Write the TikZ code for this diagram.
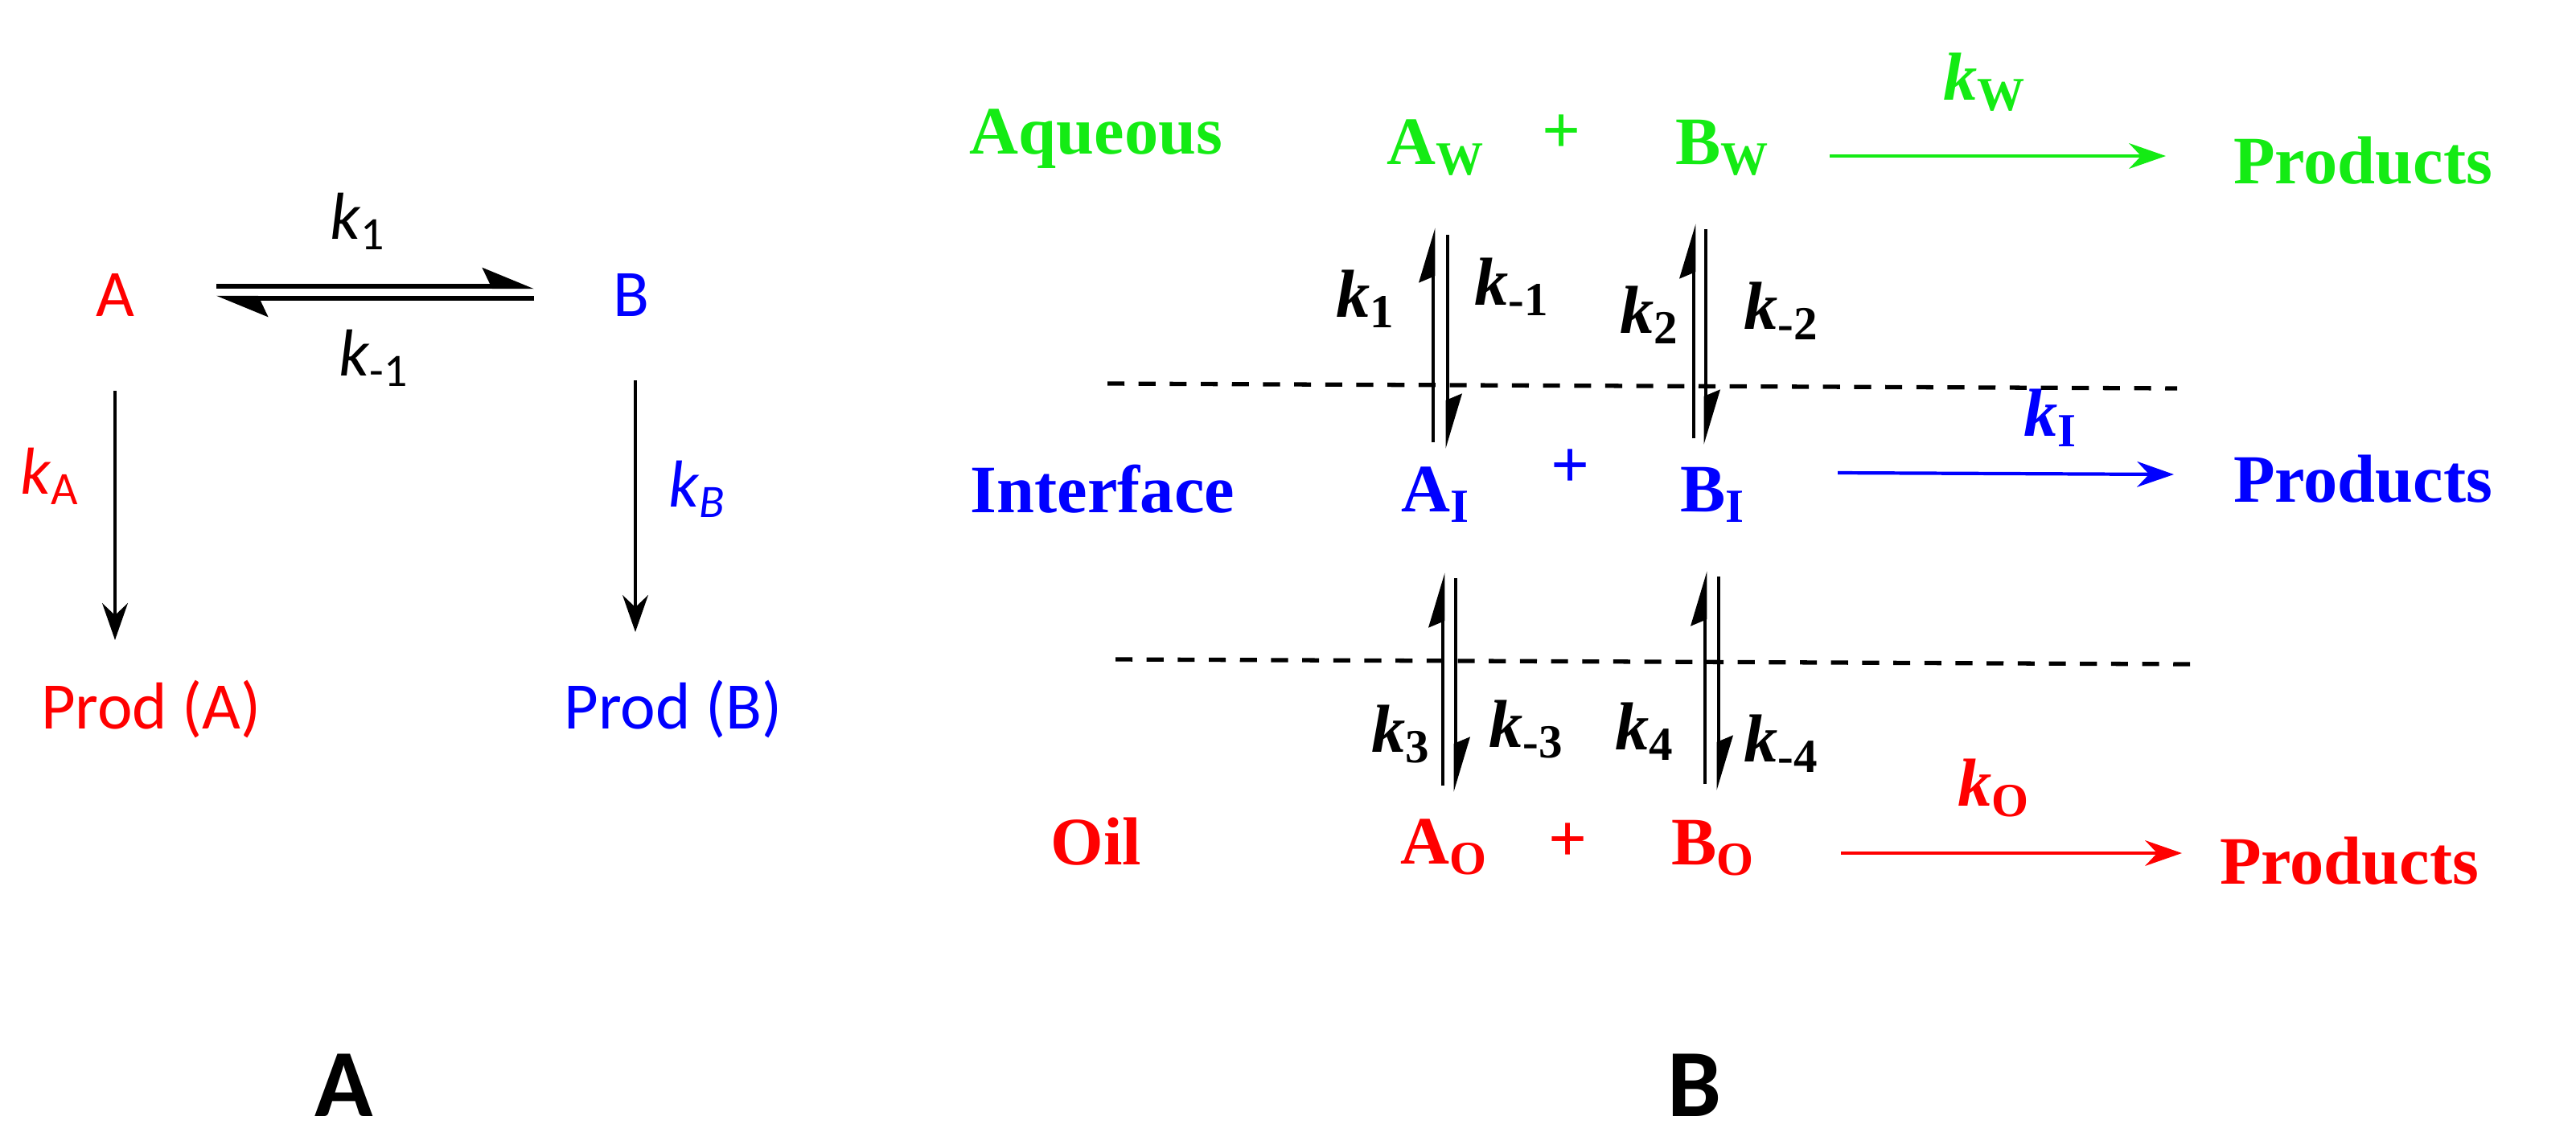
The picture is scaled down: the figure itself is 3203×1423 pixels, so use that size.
\documentclass[tikz,border=0pt]{standalone}
\usepackage{fontspec}
\setmainfont{Liberation Serif}
\newfontfamily\carl{Carlito}
\usetikzlibrary{arrows.meta}
\definecolor{gr}{RGB}{20,235,20}
\definecolor{rd}{RGB}{255,0,0}
\definecolor{bl}{RGB}{0,0,255}
\begin{document}
\begin{tikzpicture}[x=0.01cm,y=-0.01cm,
  sl/.style={font=\carl\fontsize{23.5}{26}\selectfont,inner sep=0pt},
  tl/.style={font=\bfseries\fontsize{24}{27}\selectfont,inner sep=0pt},
  kl/.style={font=\bfseries\fontsize{24}{27}\selectfont,inner sep=0pt},
  hp/.style={line width=1.8pt,-{Stealth[harpoon,length=16pt,width=13pt,inset=3pt]}},
  hv/.style={line width=1.4pt,-{Stealth[harpoon,length=17pt,width=10pt,inset=2pt]}},
  da/.style={line width=1.3pt,-{Stealth[length=13pt,width=9pt]}},
  dl/.style={line width=1.5pt,dash pattern=on 6pt off 5pt}]
\useasboundingbox (0,0) rectangle (3203,1423);
% ---- Panel A ----
\node[sl,text=rd] (A) at (143,367) {A};
\node[sl,text=bl] (B) at (785,367) {B};
\coordinate (t1) at (269,356); \coordinate (t2) at (664,356);
\coordinate (b1) at (664,371); \coordinate (b2) at (269,371);
\draw[hp] (t1) -- (t2);
\draw[hp] (b1) -- (b2);
\node[sl] (k1) at (445,275) {\textit{k}\textsubscript{1}};
\node[sl] (km1) at (465,445) {\textit{k}\textsubscript{-1}};
\coordinate (la1) at (143,486); \coordinate (la2) at (143,796);
\coordinate (ra1) at (790,473); \coordinate (ra2) at (790,786);
\draw[da] (la1) -- (la2);
\draw[da] (ra1) -- (ra2);
\node[sl,text=rd] (kA) at (62,592) {\textit{k}\textsubscript{A}};
\node[sl,text=bl] (kB) at (867,608) {\textit{k}\textsubscript{\textit{B}}};
\node[sl,text=rd] (pA) at (188,882) {Prod (A)};
\node[sl,text=bl] (pB) at (837,882) {Prod (B)};
\node[font=\carl\bfseries\fontsize{34}{38}\selectfont,inner sep=0pt] (LA) at (428,1350) {A};
\node[font=\carl\bfseries\fontsize{34}{38}\selectfont,inner sep=0pt] (LB) at (2107,1350) {B};
% ---- Panel B ----
\node[tl,text=gr] (aq) at (1363,173) {Aqueous};
\node[tl,text=gr] (AW) at (1785,184) {A\textsubscript{W}};
\node[tl,text=gr] (p1) at (1942,167) {+};
\node[tl,text=gr] (BW) at (2142,184) {B\textsubscript{W}};
\node[tl,text=gr] (PW) at (2938,200) {Products};
\coordinate (w1) at (2275,194); \coordinate (w2) at (2693,194);
\draw[da,draw=gr,line width=1.2pt] (w1) -- (w2);
\node[kl,text=gr] (kW) at (2468,102) {\textit{k}\textsubscript{W}};
\node[tl,text=bl] (int) at (1371,608) {Interface};
\node[tl,text=bl] (AI) at (1785,615) {A\textsubscript{I}};
\node[tl,text=bl] (p2) at (1953,583) {+};
\node[tl,text=bl] (BI) at (2130,615) {B\textsubscript{I}};
\node[tl,text=bl] (PI) at (2938,596) {Products};
\coordinate (i1) at (2285,588); \coordinate (i2) at (2703,590);
\draw[da,draw=bl,line width=1.2pt] (i1) -- (i2);
\node[kl,text=bl] (kI) at (2550,520) {\textit{k}\textsubscript{I}};
\node[tl,text=rd] (oil) at (1363,1047) {Oil};
\node[tl,text=rd] (AO) at (1796,1053) {A\textsubscript{O}};
\node[tl,text=rd] (p3) at (1950,1048) {+};
\node[tl,text=rd] (BO) at (2130,1055) {B\textsubscript{O}};
\node[tl,text=rd] (PO) at (2921,1071) {Products};
\coordinate (o1) at (2289,1061); \coordinate (o2) at (2713,1061);
\draw[da,draw=rd,line width=1.2pt] (o1) -- (o2);
\node[kl,text=rd] (kO) at (2479,980) {\textit{k}\textsubscript{O}};
% dashed lines
\coordinate (d1a) at (1377,477); \coordinate (d1b) at (2707,483);
\coordinate (d2a) at (1387,820); \coordinate (d2b) at (2723,826);
\draw[dl] (d1a) -- (d1b);
\draw[dl] (d2a) -- (d2b);
% vertical equilibria
\coordinate (u1a) at (1782,550); \coordinate (u1b) at (1782,283);
\coordinate (v1a) at (1800,292); \coordinate (v1b) at (1800,558);
\coordinate (u2a) at (2106,545); \coordinate (u2b) at (2106,278);
\coordinate (v2a) at (2121,285); \coordinate (v2b) at (2121,553);
\coordinate (u3a) at (1794,977); \coordinate (u3b) at (1794,712);
\coordinate (v3a) at (1810,719); \coordinate (v3b) at (1810,985);
\coordinate (u4a) at (2120,975); \coordinate (u4b) at (2120,710);
\coordinate (v4a) at (2137,717); \coordinate (v4b) at (2137,983);
\foreach \a/\b in {u1a/u1b,v1a/v1b,u2a/u2b,v2a/v2b,u3a/u3b,v3a/v3b,u4a/u4b,v4a/v4b}
  \draw[hv] (\a) -- (\b);
\node[kl] (q1) at (1698,372) {\textit{k}\textsubscript{1}};
\node[kl] (qm1) at (1880,357) {\textit{k}\textsubscript{-1}};
\node[kl] (q2) at (2051,392) {\textit{k}\textsubscript{2}};
\node[kl] (qm2) at (2215,387) {\textit{k}\textsubscript{-2}};
\node[kl] (q3) at (1742,913) {\textit{k}\textsubscript{3}};
\node[kl] (qm3) at (1898,907) {\textit{k}\textsubscript{-3}};
\node[kl] (q4) at (2045,910) {\textit{k}\textsubscript{4}};
\node[kl] (qm4) at (2215,925) {\textit{k}\textsubscript{-4}};
\end{tikzpicture}
\end{document}
